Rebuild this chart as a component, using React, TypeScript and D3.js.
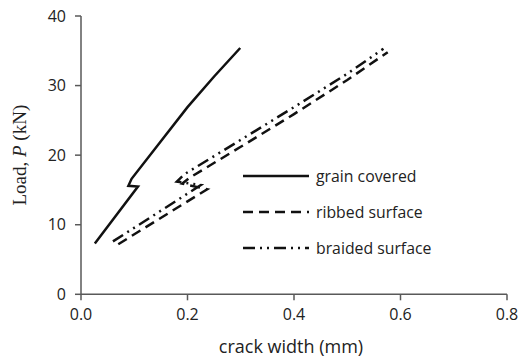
import React from "react";
import * as d3 from "d3";

// crack width (mm) vs load (kN)
const grainX = [0.026, 0.107, 0.089, 0.095, 0.15, 0.2, 0.25, 0.299];
const grainY = [7.3, 15.5, 15.6, 16.6, 22.0, 26.9, 31.3, 35.4];

const ribbedX = [0.07, 0.237, 0.19, 0.205, 0.3, 0.4, 0.5, 0.576];
const ribbedY = [7.2, 15.1, 15.9, 16.8, 21.2, 25.9, 30.8, 34.8];

const braidedX = [0.06, 0.225, 0.18, 0.195, 0.3, 0.4, 0.5, 0.568];
const braidedY = [7.6, 15.7, 16.2, 17.3, 22.2, 26.9, 31.7, 35.3];

const xTicks = [0, 0.2, 0.4, 0.6, 0.8];
const yTicks = [0, 10, 20, 30, 40];

const seriesNames = ["grain covered", "ribbed surface", "braided surface"];
const dashes = ["none", "10,6", "12,5,2,5,2,5"];

export default function App() {
  const width = 523;
  const height = 361;
  const x = d3.scaleLinear().domain([0, 0.8]).range([81, 507]);
  const y = d3.scaleLinear().domain([0, 40]).range([294.3, 16]);

  const series = [
    grainX.map((v, i) => [v, grainY[i]]),
    ribbedX.map((v, i) => [v, ribbedY[i]]),
    braidedX.map((v, i) => [v, braidedY[i]]),
  ];
  const line = d3
    .line<number[]>()
    .x((d) => x(d[0]))
    .y((d) => y(d[1]));

  const axisColor = "#595959";
  const sans = "'Open Sans', 'Liberation Sans', sans-serif";

  return (
    <svg
      width={width}
      height={height}
      style={{ position: "absolute", left: 0, top: 0 }}
    >
      <rect width={width} height={height} fill="#fff" />
      {/* axes */}
      <line x1={x(0)} x2={x(0)} y1={y(0)} y2={y(40)} stroke={axisColor} strokeWidth={1.5} />
      <line x1={x(0)} x2={x(0.8)} y1={y(0)} y2={y(0)} stroke={axisColor} strokeWidth={1.5} />
      {yTicks.map((t) => (
        <g key={"y" + t}>
          <line x1={x(0) - 6} x2={x(0)} y1={y(t)} y2={y(t)} stroke={axisColor} strokeWidth={1.5} />
          <text
            x={x(0) - 15}
            y={y(t)}
            dy="0.36em"
            textAnchor="end"
            fontFamily={sans}
            fontSize={16}
            fill="#222"
          >
            {t}
          </text>
        </g>
      ))}
      {xTicks.map((t) => (
        <g key={"x" + t}>
          <line x1={x(t)} x2={x(t)} y1={y(0)} y2={y(0) + 6} stroke={axisColor} strokeWidth={1.5} />
          <text
            x={x(t)}
            y={y(0) + 26}
            textAnchor="middle"
            fontFamily={sans}
            fontSize={16}
            fill="#222"
          >
            {t.toFixed(1)}
          </text>
        </g>
      ))}
      <text
        x={291}
        y={353}
        textAnchor="middle"
        fontFamily={sans}
        fontSize={18}
        fill="#222"
      >
        crack width (mm)
      </text>
      <text
        transform={`translate(26, ${y(20)}) rotate(-90)`}
        textAnchor="middle"
        fontFamily="'Liberation Serif', 'DejaVu Serif', serif"
        fontSize={19}
        fill="#222"
      >
        Load, <tspan fontStyle="italic">P</tspan> (kN)
      </text>

      {/* series */}
      {series.map((s, i) => (
        <path
          key={i}
          d={line(s) ?? ""}
          fill="none"
          stroke="#111"
          strokeWidth={2.5}
          strokeDasharray={dashes[i]}
        />
      ))}

      {/* legend */}
      {seriesNames.map((name, i) => {
        const ly = 176 + i * 36;
        return (
          <g key={name}>
            <line
              x1={243}
              x2={309}
              y1={ly}
              y2={ly}
              stroke="#111"
              strokeWidth={2.5}
              strokeDasharray={dashes[i]}
            />
            <text x={316} y={ly} dy="0.36em" fontFamily={sans} fontSize={15.8} fill="#222">
              {name}
            </text>
          </g>
        );
      })}
    </svg>
  );
}
